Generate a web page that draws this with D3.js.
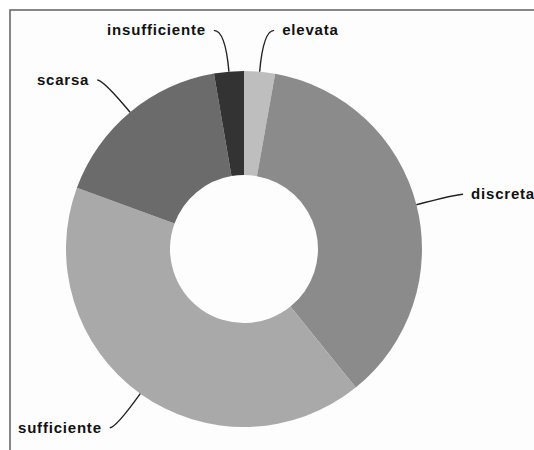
<!DOCTYPE html>
<html>
<head>
<meta charset="utf-8">
<script src="https://cdn.jsdelivr.net/npm/d3@7"></script>
<style>
  body { margin: 0; background: #fff; }
  svg { display: block; }
  .lbl { font-family: "Liberation Sans", Arial, sans-serif; font-weight: bold; font-size: 15px; letter-spacing: 0.8px; fill: #111; }
</style>
</head>
<body>
<svg id="chart"></svg>
<script>
// Slices, clockwise from 12 o'clock (percent)
const categories = ['elevata', 'discreta', 'sufficiente', 'scarsa', 'insufficiente'];
const values = [2.8, 36.4, 41.4, 16.7, 2.7];
const colors = ['#bebebe', '#8b8b8b', '#a9a9a9', '#6b6b6b', '#333333'];

const width = 534, height = 450;
const cx = 244, cy = 249;
const outerR = 178, innerR = 74, labelR = 220;

const svg = d3.select('#chart').attr('width', width).attr('height', height);

// Frame
svg.append('rect')
  .attr('x', 10).attr('y', 10)
  .attr('width', width + 20).attr('height', height + 20)
  .attr('fill', '#fdfdfd')
  .attr('stroke', '#6a6a6a')
  .attr('stroke-width', 1.6);

const data = categories.map((c, i) => ({ name: c, value: values[i], color: colors[i] }));

const pie = d3.pie().sort(null).value(d => d.value);
const arcs = pie(data);

const arc = d3.arc().innerRadius(innerR).outerRadius(outerR);

const g = svg.append('g').attr('transform', `translate(${cx},${cy})`);

g.selectAll('path.slice')
  .data(arcs)
  .join('path')
  .attr('class', 'slice')
  .attr('d', arc)
  .attr('fill', d => d.data.color);

// point at radius r and angle a (0 = up, clockwise)
function polar(r, a) {
  return [r * Math.sin(a), -r * Math.cos(a)];
}

// Labels with curved leader lines
const minSep = 0.11;
arcs.forEach(d => {
  const mid = (d.startAngle + d.endAngle) / 2;
  let la = mid;
  // spread the two thin slices at the top apart
  if (mid < minSep) la = minSep;
  if (mid > 2 * Math.PI - minSep) la = 2 * Math.PI - minSep;

  const p0 = polar(outerR, mid);
  const pe = polar(labelR, la);
  const right = Math.sin(la) >= 0;
  const ctrl = [polar(labelR, mid)[0], pe[1]];
  const hook = right ? 6 : -6;
  const p1 = [pe[0] + hook, pe[1]];

  const path = d3.path();
  path.moveTo(p0[0], p0[1]);
  path.quadraticCurveTo(ctrl[0], ctrl[1], p1[0], p1[1]);

  g.append('path')
    .attr('d', path.toString())
    .attr('fill', 'none')
    .attr('stroke', '#222')
    .attr('stroke-width', 1.4);

  g.append('text')
    .attr('class', 'lbl')
    .attr('x', p1[0] + (right ? 8 : -8))
    .attr('y', p1[1] + 5)
    .attr('text-anchor', right ? 'start' : 'end')
    .text(d.data.name);
});
</script>
</body>
</html>
